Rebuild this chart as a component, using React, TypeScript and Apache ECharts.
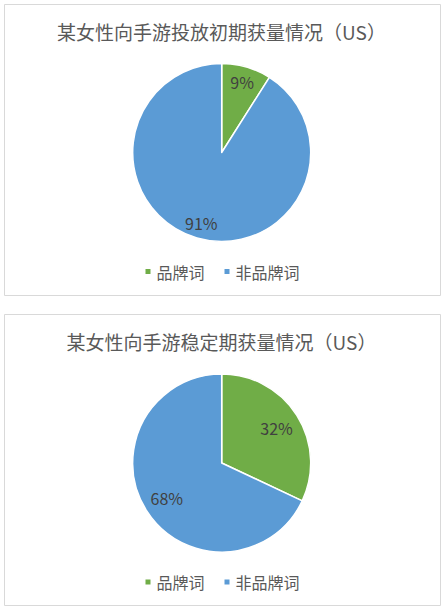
import { useEffect, useRef } from 'react';
import * as echarts from 'echarts';

const categories = ['品牌词', '非品牌词'];
const chartTitles = ['某女性向手游投放初期获量情况（US）', '某女性向手游稳定期获量情况（US）'];
// share of installs per period, in %
const brandShare = [9, 32];
const nonBrandShare = [91, 68];

const colors = ['#70AD47', '#5B9BD5'];
const textColor = '#595959';
const font = '"Noto Sans CJK SC", "Noto Sans", sans-serif';

// per-panel layout
const panelTop = [4.5, 314.5];
const pieCenterY = [152.5, 463];
const labelRadius = [70, 62];

export default function App() {
  const chartRef = useRef<HTMLDivElement>(null);

  useEffect(() => {
    if (!chartRef.current) return;
    const chart = echarts.init(chartRef.current, null, { renderer: 'svg' });

    const series: any[] = [];
    chartTitles.forEach((_, i) => {
      const data = [
        { name: categories[0], value: brandShare[i] },
        { name: categories[1], value: nonBrandShare[i] },
      ];
      series.push({
        type: 'pie',
        center: [221.7, pieCenterY[i]],
        radius: [0, 89],
        startAngle: 90,
        clockwise: true,
        color: colors,
        itemStyle: { borderColor: '#fff', borderWidth: 1.5 },
        label: { show: false },
        labelLine: { show: false },
        emphasis: { disabled: true },
        data,
      });
      // invisible ring that carries the percentage labels at the right distance
      series.push({
        type: 'pie',
        center: [221.7, pieCenterY[i]],
        radius: [labelRadius[i] - 2, labelRadius[i] + 2],
        startAngle: 90,
        clockwise: true,
        silent: true,
        itemStyle: { color: 'rgba(0,0,0,0)' },
        label: {
          show: true,
          position: 'inside',
          formatter: (p: any) => `${Math.round(p.percent)}%`,
          color: '#404040',
          fontSize: 16,
          fontFamily: font,
        },
        labelLine: { show: false },
        emphasis: { disabled: true },
        data,
      });
    });

    const option: echarts.EChartsOption = {
      animation: false,
      backgroundColor: '#fff',
      title: chartTitles.map((t, i) => ({
        text: t,
        left: 'center',
        top: panelTop[i] + 16,
        padding: 0,
        textStyle: { color: textColor, fontSize: 19, fontWeight: 'normal', fontFamily: font, lineHeight: 22 },
      })),
      legend: chartTitles.map((_, i) => ({
        left: 'center',
        top: pieCenterY[i] + 111,
        padding: 0,
        icon: 'rect',
        itemWidth: 7,
        itemHeight: 7,
        itemGap: 18,
        selectedMode: false,
        textStyle: { color: textColor, fontSize: 16, fontFamily: font },
        data: categories.map((c, k) => ({ name: c, itemStyle: { color: colors[k] } })),
      })),
      graphic: panelTop.map((y) => ({
        type: 'rect',
        z: -1,
        shape: { x: 4.5, y, width: 436, height: 291 },
        style: { fill: 'none', stroke: '#D9D9D9', lineWidth: 1 },
      })),
      series,
    };

    chart.setOption(option);

    return () => {
      chart.dispose();
    };
  }, []);

  return (
    <div
      ref={chartRef}
      style={{ position: 'absolute', left: 0, top: 0, width: '443px', height: '609px' }}
    />
  );
}
